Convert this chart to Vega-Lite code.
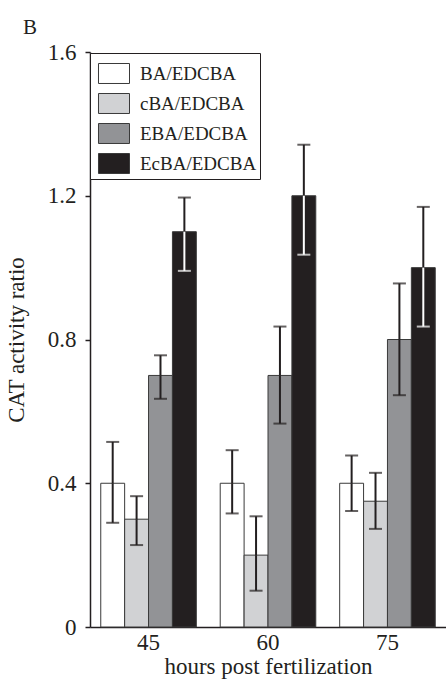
{
  "$schema": "https://vega.github.io/schema/vega-lite/v6.json",
  "width": 356,
  "height": 575,
  "autosize": {"type": "none"},
  "padding": {"left": 90, "top": 52, "right": 0, "bottom": 54},
  "background": "white",
  "title": {"text": "B", "anchor": "start", "frame": "group", "dx": -67, "offset": 3, "font": "Liberation Serif", "fontSize": 21, "fontWeight": "normal", "color": "#231f20"},
  "config": {
    "view": {"stroke": null},
    "font": "Liberation Serif",
    "axis": {"labelFont": "Liberation Serif", "titleFont": "Liberation Serif", "labelColor": "#231f20", "titleColor": "#231f20", "domainColor": "#231f20", "tickColor": "#231f20", "grid": false, "titleFontWeight": "normal"}
  },
  "data": {"values": [
    {"hours": "45", "series": "BA/EDCBA", "value": 0.4, "lo": 0.29, "hi": 0.515},
    {"hours": "45", "series": "cBA/EDCBA", "value": 0.3, "lo": 0.228, "hi": 0.364},
    {"hours": "45", "series": "EBA/EDCBA", "value": 0.7, "lo": 0.635, "hi": 0.756},
    {"hours": "45", "series": "EcBA/EDCBA", "value": 1.1, "lo": 0.991, "hi": 1.195},
    {"hours": "60", "series": "BA/EDCBA", "value": 0.4, "lo": 0.316, "hi": 0.492},
    {"hours": "60", "series": "cBA/EDCBA", "value": 0.2, "lo": 0.101, "hi": 0.308},
    {"hours": "60", "series": "EBA/EDCBA", "value": 0.7, "lo": 0.566, "hi": 0.836},
    {"hours": "60", "series": "EcBA/EDCBA", "value": 1.2, "lo": 1.036, "hi": 1.342},
    {"hours": "75", "series": "BA/EDCBA", "value": 0.4, "lo": 0.323, "hi": 0.477},
    {"hours": "75", "series": "cBA/EDCBA", "value": 0.35, "lo": 0.273, "hi": 0.429},
    {"hours": "75", "series": "EBA/EDCBA", "value": 0.8, "lo": 0.645, "hi": 0.956},
    {"hours": "75", "series": "EcBA/EDCBA", "value": 1.0, "lo": 0.836, "hi": 1.169}
  ]},
  "encoding": {
    "x": {"field": "hours", "type": "nominal", "scale": {"paddingInner": 0.2, "paddingOuter": 0.09},
      "axis": {"title": "hours post fertilization", "labelAngle": 0, "labelFontSize": 23, "titleFontSize": 23, "ticks": false, "labelPadding": 4, "titlePadding": 1, "domainWidth": 1.5}},
    "xOffset": {"field": "series", "type": "nominal", "sort": ["BA/EDCBA", "cBA/EDCBA", "EBA/EDCBA", "EcBA/EDCBA"], "scale": {"paddingInner": 0, "paddingOuter": 0}}
  },
  "layer": [
    {
      "mark": {"type": "bar", "stroke": "#3a3a3a", "strokeWidth": 1},
      "encoding": {
        "y": {"field": "value", "type": "quantitative", "scale": {"domain": [0, 1.6], "nice": false},
          "axis": {"title": "CAT activity ratio", "values": [0, 0.4, 0.8, 1.2, 1.6], "format": ".1~f", "labelFontSize": 23, "titleFontSize": 23, "tickSize": 5, "labelPadding": 9, "titlePadding": 19, "domainWidth": 1.5, "tickWidth": 1.5}},
        "fill": {"field": "series", "type": "nominal", "sort": ["BA/EDCBA", "cBA/EDCBA", "EBA/EDCBA", "EcBA/EDCBA"],
          "scale": {"domain": ["BA/EDCBA", "cBA/EDCBA", "EBA/EDCBA", "EcBA/EDCBA"], "range": ["#ffffff", "#d1d2d4", "#929396", "#231f20"]},
          "legend": {"title": null, "orient": "none", "legendX": 0, "legendY": 1, "direction": "vertical", "strokeColor": "#231f20", "fillColor": "white", "padding": 3, "symbolType": "M-0.706,-0.588L1.118,-0.588L1.118,0.588L-0.706,0.588Z", "symbolSize": 1156, "symbolStrokeColor": "#3a3a3a", "symbolStrokeWidth": 1, "symbolOpacity": 1, "labelFontSize": 19, "labelFont": "Liberation Serif", "labelColor": "#231f20", "labelOffset": 12, "rowPadding": -4}}
      }
    },
    {
      "mark": {"type": "rule", "strokeWidth": 2, "color": "#231f20"},
      "encoding": {"y": {"field": "value", "type": "quantitative"}, "y2": {"field": "hi"}}
    },
    {
      "mark": {"type": "rule", "strokeWidth": 2},
      "encoding": {"y": {"field": "lo", "type": "quantitative"}, "y2": {"field": "value"},
        "color": {"condition": {"test": "datum.series === 'EcBA/EDCBA'", "value": "#ffffff"}, "value": "#231f20"}}
    },
    {
      "mark": {"type": "tick", "orient": "horizontal", "size": 13, "thickness": 2, "color": "#231f20"},
      "encoding": {"y": {"field": "hi", "type": "quantitative"}}
    },
    {
      "mark": {"type": "tick", "orient": "horizontal", "size": 13, "thickness": 2},
      "encoding": {"y": {"field": "lo", "type": "quantitative"},
        "color": {"condition": {"test": "datum.series === 'EcBA/EDCBA'", "value": "#ffffff"}, "value": "#231f20"}}
    }
  ]
}
